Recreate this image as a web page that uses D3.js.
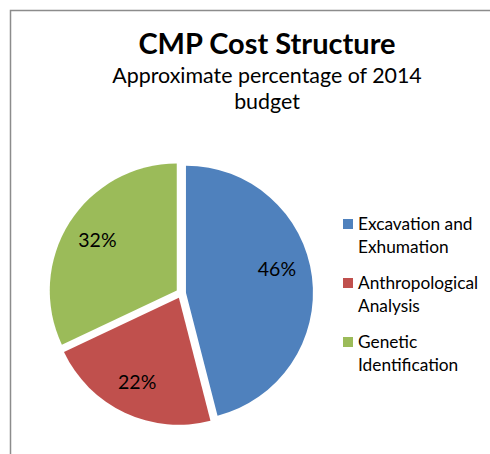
<!DOCTYPE html>
<html>
<head>
<meta charset="utf-8">
<script src="https://cdn.jsdelivr.net/npm/d3@7"></script>
<style>
  html, body { margin: 0; padding: 0; background: #fff; }
  svg { display: block; }
</style>
</head>
<body>
<svg id="chart" width="490" height="454"></svg>
<script>
// ---- data ----
const categories = ["Excavation and Exhumation", "Anthropological Analysis", "Genetic Identification"];
const values = [46, 22, 32];
const colors = ["#4F81BD", "#C0504D", "#9BBB59"];
const titleText = "CMP Cost Structure";
const subtitleText = "Approximate percentage of 2014 budget";

// ---- layout ----
const W = 490, H = 454;
const cx = 181, cy = 293.3, R = 127, explode = 5;
const labelRadius = 0.74 * R;
const labelNudge = [-0.13, 0.02, 0]; // radians, best-fit label adjustment
const font = "Lato, 'Open Sans', sans-serif";

const svg = d3.select("#chart");

// chart border
svg.append("rect")
  .attr("x", 10.5).attr("y", 10.5)
  .attr("width", W).attr("height", H)
  .attr("fill", "none").attr("stroke", "#8c8c8c").attr("stroke-width", 1.5);

// title
svg.append("text")
  .attr("x", 267).attr("y", 54)
  .attr("text-anchor", "middle")
  .attr("font-family", font).attr("font-weight", "bold").attr("font-size", 29)
  .attr("fill", "#000")
  .text(titleText);

function wrap(text, maxW, size, weight) {
  const tmp = svg.append("text").attr("font-family", font).attr("font-size", size).attr("font-weight", weight || "normal");
  const words = text.split(" ");
  const lines = [];
  let cur = "";
  words.forEach(w => {
    const t = cur ? cur + " " + w : w;
    tmp.text(t);
    if (tmp.node().getComputedTextLength() > maxW && cur) { lines.push(cur); cur = w; }
    else cur = t;
  });
  if (cur) lines.push(cur);
  tmp.remove();
  return lines;
}

const subLines = wrap(subtitleText, 340, 21.4);
svg.append("text")
  .attr("text-anchor", "middle")
  .attr("font-family", font).attr("font-size", 21.4).attr("fill", "#000")
  .selectAll("tspan").data(subLines).join("tspan")
  .attr("x", 267).attr("y", (d, i) => 83 + i * 26)
  .text(d => d);

// pie
const pie = d3.pie().sort(null).value(d => d)(values);
const arc = d3.arc().innerRadius(0).outerRadius(R);

const g = svg.append("g").attr("transform", `translate(${cx},${cy})`);
const slices = g.selectAll("g.slice").data(pie).join("g")
  .attr("class", "slice")
  .attr("transform", d => {
    const a = (d.startAngle + d.endAngle) / 2;
    return `translate(${explode * Math.sin(a)},${-explode * Math.cos(a)})`;
  });

slices.append("path")
  .attr("d", arc)
  .attr("fill", (d, i) => colors[i]);

slices.append("text")
  .attr("x", (d, i) => labelRadius * Math.sin((d.startAngle + d.endAngle) / 2 + labelNudge[i]))
  .attr("y", (d, i) => -labelRadius * Math.cos((d.startAngle + d.endAngle) / 2 + labelNudge[i]))
  .attr("dy", "0.36em")
  .attr("text-anchor", "middle")
  .attr("font-family", font).attr("font-size", 19.5).attr("fill", "#000")
  .text(d => d.data + "%");

// legend
const legendY = [224, 283, 342];
const leg = svg.append("g");
categories.forEach((c, i) => {
  const lines = wrap(c, 125, 17.3);
  leg.append("rect")
    .attr("x", 343).attr("y", legendY[i] - 5)
    .attr("width", 10).attr("height", 10)
    .attr("fill", colors[i]);
  leg.append("text")
    .attr("font-family", font).attr("font-size", 17.3).attr("fill", "#000")
    .selectAll("tspan").data(lines).join("tspan")
    .attr("x", 358).attr("y", (d, j) => legendY[i] + 6 + j * 23)
    .text(d => d);
});
</script>
</body>
</html>
